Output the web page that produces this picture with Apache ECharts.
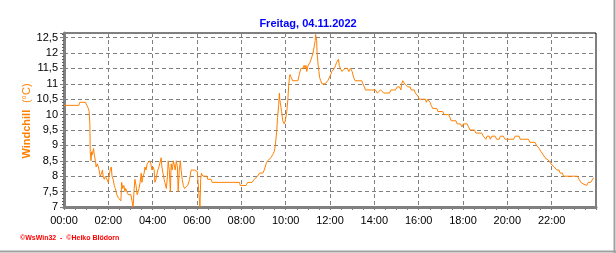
<!DOCTYPE html>
<html>
<head>
<meta charset="utf-8">
<script src="https://cdn.jsdelivr.net/npm/echarts@6/dist/echarts.min.js"></script>
<style>html,body{margin:0;padding:0;background:#fff;}#c{width:616px;height:253px;}</style>
</head>
<body>
<div id="c"></div>
<script>
// time of day in minutes since 00:00
var times = [0,40,43,58,62,66,68,70,71,73,75,77,80,82,85,87,90,93,95,98,102,104,106,109,112,116,120,122,125,128,130,133,136,139,143,147,150,154,156,159,162,165,167,170,174,177,181,184,187,190,192,195,198,201,203,206,209,211,214,217,219,222,225,228,232,235,238,241,244,246,249,252,254,257,260,263,265,268,271,273,277,280,282,285,288,290,293,296,299,301,304,307,309,312,315,317,320,323,326,331,335,340,344,353,358,361,363,366,368,370,372,376,387,389,398,401,475,477,493,497,509,515,524,529,538,542,547,551,556,560,565,569,572,575,576,578,581,583,584,587,589,592,596,599,601,603,606,608,610,612,615,619,633,637,641,644,647,650,653,655,657,661,664,666,669,672,674,677,680,681,684,685,688,690,692,695,698,701,707,710,714,719,722,725,728,732,735,738,741,743,745,748,752,757,761,767,771,775,778,780,784,788,806,809,813,816,843,848,852,857,861,866,881,885,897,902,908,912,914,917,920,922,926,930,937,940,948,951,956,958,962,978,981,984,987,991,994,998,1002,1009,1012,1025,1029,1041,1045,1048,1061,1064,1073,1077,1081,1084,1091,1095,1099,1111,1115,1131,1135,1138,1142,1145,1151,1154,1158,1163,1167,1171,1178,1181,1189,1194,1217,1221,1232,1235,1257,1261,1275,1279,1286,1291,1297,1302,1307,1313,1318,1322,1327,1331,1334,1340,1343,1349,1352,1390,1394,1399,1405,1410,1415,1419,1426,1429,1433];
var windchill = [10.3,10.3,10.4,10.4,10.3,10.2,10.1,9.7,8.8,8.5,8.8,8.7,8.9,8.7,8.5,8.3,8.4,8.3,8.2,8.0,8.1,8.2,8.0,7.9,8.0,7.9,7.8,8.0,8.2,8.3,8.0,7.9,7.7,7.6,7.4,7.3,7.3,7.2,7.8,7.6,7.7,7.5,7.6,7.5,7.4,7.4,7.4,7.2,7.0,7.6,7.9,7.7,7.4,7.5,7.6,7.8,8.1,7.8,8.0,8.1,8.3,8.2,8.4,8.4,8.5,8.4,8.2,8.3,8.2,7.8,7.9,8.1,8.2,8.3,8.3,8.6,8.3,8.1,7.9,7.8,7.6,8.0,8.5,8.2,7.5,8.4,8.2,8.5,8.5,8.2,8.5,8.3,7.5,8.2,8.5,8.2,7.9,7.7,7.6,7.6,7.7,7.9,8.2,8.2,8.2,8.15,7.8,7.3,7.0,7.9,8.1,8.0,8.0,7.9,7.9,7.8,7.8,7.7,7.7,7.8,7.8,7.9,8.0,8.1,8.1,8.2,8.4,8.5,8.5,8.6,8.7,8.8,9.0,9.0,9.5,9.9,10.3,10.7,10.5,10.5,10.1,9.8,9.7,9.8,9.8,10.1,10.5,10.9,11.2,11.3,11.2,11.1,11.1,11.3,11.5,11.5,11.5,11.6,11.5,11.6,11.4,11.6,11.6,11.7,11.8,11.8,12.0,12.2,12.4,12.6,12.4,12.0,11.6,11.4,11.2,11.1,11.0,11.0,11.0,11.05,11.1,11.1,11.3,11.4,11.4,11.5,11.6,11.7,11.7,11.8,11.6,11.5,11.4,11.4,11.5,11.5,11.4,11.5,11.5,11.4,11.2,11.1,11.1,11.0,10.9,10.8,10.8,10.7,10.7,10.8,10.8,10.7,10.7,10.8,10.8,10.9,10.9,10.8,11.0,11.1,11.1,11.0,10.95,10.9,10.9,10.8,10.8,10.7,10.7,10.6,10.5,10.5,10.4,10.5,10.45,10.4,10.3,10.2,10.2,10.2,10.1,10.1,10.0,10.0,9.9,9.8,9.8,9.7,9.7,9.6,9.7,9.7,9.7,9.6,9.5,9.5,9.4,9.4,9.3,9.3,9.2,9.3,9.3,9.2,9.3,9.3,9.3,9.2,9.2,9.3,9.3,9.2,9.2,9.3,9.3,9.2,9.2,9.1,9.1,9.0,8.9,8.8,8.7,8.6,8.55,8.5,8.4,8.4,8.3,8.3,8.2,8.2,8.1,8.1,8.0,8.0,7.9,7.8,7.75,7.7,7.7,7.8,7.8,7.85,7.95];
var xTickLabels = ['00:00','02:00','04:00','06:00','08:00','10:00','12:00','14:00','16:00','18:00','20:00','22:00'];
var yTickLabels = ['7','7,5','8','8,5','9','9,5','10','10,5','11','11,5','12','12,5'];
var titleText = 'Freitag, 04.11.2022';
var yName = 'Windchill';
var yUnit = '(°C)';
var creditText = '\u00A9WsWin32  -  \u00A9Heiko Blödorn';

var seriesData = times.map(function(t, i){ return [t, windchill[i]]; });
var chart = echarts.init(document.getElementById('c'), null, {renderer: 'canvas'});
var FONT = 'Liberation Sans, Arial, sans-serif';
chart.setOption({
  animation: false,
  backgroundColor: '#ffffff',
  title: {
    text: titleText, left: 'center', top: 13,
    textStyle: {color: '#0000ff', fontSize: 11, fontWeight: 'bold', fontFamily: FONT}
  },
  grid: {left: 64, right: 20, top: 33, bottom: 46, show: true, borderColor: '#000', borderWidth: 1, backgroundColor: 'transparent'},
  xAxis: {
    type: 'value', min: 0, max: 1440, interval: 120,
    axisLine: {show: true, onZero: false, lineStyle: {color: '#808080', width: 3}},
    axisTick: {show: true, length: 3, lineStyle: {color: '#808080', width: 1}},
    minorTick: {show: true, splitNumber: 4, length: 3, lineStyle: {color: '#808080', width: 1}},
    splitLine: {show: true, lineStyle: {color: '#808080', type: [4, 3], width: 1}},
    axisLabel: {
      color: '#000', fontSize: 11, fontFamily: FONT, margin: 8,
      formatter: function(v){ var i = Math.round(v / 120); return (Math.abs(v - i*120) < 1e-6 && i < xTickLabels.length) ? xTickLabels[i] : ''; }
    }
  },
  yAxis: {
    type: 'value', min: 7, max: 12.65, interval: 0.5,
    axisLine: {show: true, onZero: false, lineStyle: {color: '#808080', width: 3}},
    axisTick: {show: true, length: 4, lineStyle: {color: '#808080', width: 1}},
    minorTick: {show: true, splitNumber: 5, length: 2, lineStyle: {color: '#606060', width: 1}},
    splitLine: {show: true, lineStyle: {color: '#808080', type: [4, 3], width: 1}},
    axisLabel: {
      color: '#000', fontSize: 11, fontFamily: FONT, margin: 6,
      formatter: function(v){ var k = Math.round((v - 7) * 2); return (Math.abs(v - 7 - k/2) < 1e-6 && k >= 0 && k < yTickLabels.length) ? yTickLabels[k] : ''; }
    }
  },
  series: [{
    type: 'line', data: seriesData, showSymbol: false, symbol: 'none', clip: false,
    lineStyle: {color: '#ff8000', width: 1}, z: 5
  }],
  graphic: [
    {type: 'text', x: 27, y: 121, rotation: Math.PI / 2,
     style: {text: '{b|' + yName + '}  {n|' + yUnit + '}', align: 'center', verticalAlign: 'middle',
       rich: {
         b: {fill: '#ff8000', fontSize: 11, fontWeight: 'bold', fontFamily: FONT},
         n: {fill: '#ff8000', fontSize: 11, fontFamily: FONT}
       }}},
    {type: 'text', left: 20, top: 235, style: {text: creditText, fill: '#ff0000', font: 'bold 7px ' + FONT}},
    {type: 'line', shape: {x1: 614.5, y1: 0, x2: 614.5, y2: 253}, style: {stroke: '#a0a0a0', lineWidth: 2}},
    {type: 'line', shape: {x1: 0, y1: 251.5, x2: 616, y2: 251.5}, style: {stroke: '#a0a0a0', lineWidth: 2}}
  ]
});
</script>
</body>
</html>
